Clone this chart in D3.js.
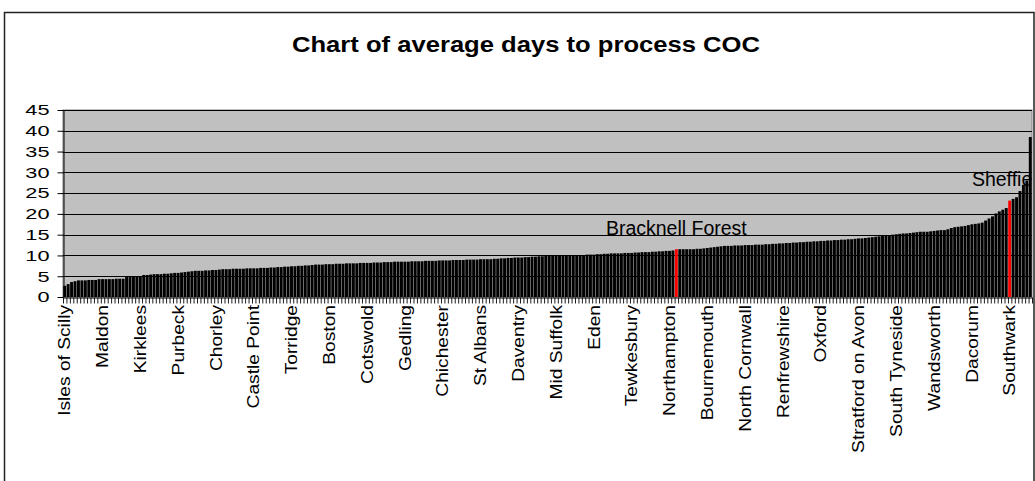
<!DOCTYPE html>
<html><head><meta charset="utf-8">
<script src="https://cdn.jsdelivr.net/npm/d3@7"></script>
<style>
body{margin:0;background:#fff}
svg{display:block}
text{font-family:"Liberation Sans",Arial,Helvetica,sans-serif;fill:#000}
</style>
</head><body>
<svg id="chart" width="1035" height="481"></svg>
<script>
// ---- data (sorted average days to process COC, one bar per authority) ----
const values = [
  2.7, 3.1, 3.6, 3.8, 4.0, 4.0, 4.0, 4.1, 4.1, 4.1,
  4.3, 4.3, 4.3, 4.3, 4.3, 4.4, 4.4, 4.4, 4.8, 4.8,
  4.9, 4.9, 5.0, 5.3, 5.3, 5.4, 5.5, 5.5, 5.5, 5.6,
  5.6, 5.7, 5.8, 5.8, 5.9, 6.0, 6.1, 6.2, 6.3, 6.3,
  6.3, 6.4, 6.4, 6.5, 6.5, 6.6, 6.7, 6.7, 6.7, 6.8,
  6.8, 6.8, 6.8, 6.9, 6.9, 6.9, 6.9, 7.0, 7.0, 7.0,
  7.1, 7.1, 7.2, 7.2, 7.3, 7.3, 7.4, 7.4, 7.5, 7.5,
  7.6, 7.6, 7.7, 7.8, 7.8, 7.8, 7.9, 7.9, 7.9, 8.0,
  8.0, 8.0, 8.1, 8.1, 8.1, 8.1, 8.2, 8.2, 8.2, 8.2,
  8.3, 8.3, 8.3, 8.4, 8.4, 8.4, 8.5, 8.5, 8.5, 8.5,
  8.5, 8.6, 8.6, 8.6, 8.6, 8.7, 8.7, 8.7, 8.7, 8.8,
  8.8, 8.8, 8.8, 8.9, 8.9, 8.9, 8.9, 9.0, 9.0, 9.0,
  9.0, 9.1, 9.1, 9.1, 9.1, 9.2, 9.2, 9.3, 9.3, 9.4,
  9.4, 9.5, 9.5, 9.5, 9.6, 9.6, 9.7, 9.7, 9.8, 9.8,
  9.9, 9.9, 9.9, 10.0, 10.0, 10.0, 10.0, 10.1, 10.1, 10.1,
  10.1, 10.1, 10.2, 10.2, 10.2, 10.3, 10.3, 10.4, 10.4, 10.5,
  10.5, 10.5, 10.5, 10.6, 10.6, 10.6, 10.7, 10.7, 10.8, 10.8,
  10.8, 10.9, 10.9, 11.0, 11.0, 11.1, 11.1, 11.2, 11.5, 11.5,
  11.5, 11.5, 11.5, 11.5, 11.6, 11.6, 11.7, 11.8, 11.9, 12.0,
  12.1, 12.2, 12.3, 12.3, 12.3, 12.4, 12.4, 12.4, 12.5, 12.5,
  12.5, 12.6, 12.6, 12.6, 12.7, 12.7, 12.8, 12.8, 12.9, 12.9,
  13.0, 13.0, 13.1, 13.1, 13.2, 13.2, 13.3, 13.3, 13.4, 13.4,
  13.5, 13.5, 13.6, 13.6, 13.7, 13.7, 13.8, 13.8, 13.9, 13.9,
  14.0, 14.1, 14.1, 14.2, 14.3, 14.4, 14.5, 14.6, 14.7, 14.8,
  14.9, 15.0, 15.1, 15.2, 15.3, 15.3, 15.4, 15.5, 15.6, 15.7,
  15.7, 15.7, 15.8, 15.9, 16.0, 16.1, 16.1, 16.3, 16.6, 16.8,
  16.9, 17.0, 17.1, 17.3, 17.5, 17.6, 17.7, 17.9, 18.4, 18.9,
  19.4, 20.1, 20.6, 21.0, 21.4, 23.2, 23.6, 24.0, 25.5, 27.0,
  28.0, 38.5
];
const tickLabels = ["Isles of Scilly","Maldon","Kirklees","Purbeck","Chorley","Castle Point",
  "Torridge","Boston","Cotswold","Gedling","Chichester","St Albans","Daventry","Mid Suffolk",
  "Eden","Tewkesbury","Northampton","Bournemouth","North Cornwall","Renfrewshire","Oxford",
  "Stratford on Avon","South Tyneside","Wandsworth","Dacorum","Southwark"];
const labelEvery = 11;
const highlightNames = ["Bracknell Forest","Sheffield"];
const highlightIndex = [178, 275];
const yTicks = [0,5,10,15,20,25,30,35,40,45];
const title = "Chart of average days to process COC";

// ---- layout ----
const svg = d3.select("#chart");
const L = 63, R = 1032, T = 110, B = 297;
const N = values.length;

svg.append("rect").attr("x",4.5).attr("y",12.5).attr("width",1029.5).attr("height",480)
  .attr("fill","#fff").attr("stroke","#222").attr("stroke-width",1.5);

const x = d3.scaleBand().domain(d3.range(N)).range([L,R]).paddingInner(0.15).paddingOuter(0.075);
const xb = d3.scaleLinear().domain([0,N]).range([L,R]);
const y = d3.scaleLinear().domain([0,45]).range([B,T]);

// plot area
svg.append("rect").attr("x",L).attr("y",T).attr("width",R-L).attr("height",B-T)
  .attr("fill","#c0c0c0").attr("stroke","#808080").attr("stroke-width",1);

// gridlines
svg.append("g").selectAll("line").data(yTicks.filter(d=>d>0)).join("line")
  .attr("x1",L).attr("x2",R).attr("y1",d=>Math.round(y(d))+0.5).attr("y2",d=>Math.round(y(d))+0.5)
  .attr("stroke","#000").attr("stroke-width",1);

// bars
svg.append("g").selectAll("rect").data(values).join("rect")
  .attr("x",(d,i)=>x(i)).attr("width",x.bandwidth())
  .attr("y",d=>y(d)).attr("height",d=>y(0)-y(d))
  .attr("fill",(d,i)=>highlightIndex.includes(i)?"#ff0000":"#000");

// y axis
const pad = 8, tick = 6;
const gy = svg.append("g").attr("transform",`translate(${L+0.5},0)`)
  .call(d3.axisLeft(y).tickValues(yTicks).tickSize(tick).tickSizeOuter(0).tickPadding(pad));
gy.select(".domain").attr("stroke","#000");
gy.selectAll(".tick line").attr("stroke","#000");
gy.selectAll(".tick text").attr("font-size",15).attr("font-family","Liberation Sans, Arial")
  .attr("fill","#000").attr("text-anchor","end")
  .attr("transform", `translate(${-pad-tick},0) scale(1.45,1) translate(${pad+tick},0)`);

// x axis category ticks
const gx = svg.append("g").attr("transform",`translate(0,${B+0.5})`)
  .call(d3.axisBottom(xb).tickValues(d3.range(N+1)).tickFormat("").tickSize(6).tickSizeOuter(0));
gx.select(".domain").attr("stroke","#000");
gx.selectAll(".tick line").attr("stroke","#000").attr("stroke-width",0.9);

// x labels
const labelIdx = tickLabels.map((d,k)=>k*labelEvery);
const gl = svg.append("g").attr("transform",`translate(0,${B})`)
  .call(d3.axisBottom(x).tickValues(labelIdx).tickFormat(i=>tickLabels[i/labelEvery]).tickSize(0).tickSizeOuter(0));
gl.select(".domain").remove();
gl.selectAll(".tick text")
  .attr("font-size",16).attr("font-family","Liberation Sans, Arial").attr("fill","#000")
  .attr("text-anchor","end").attr("x",0).attr("y",0).attr("dy","0.36em")
  .attr("transform","translate(0,8) rotate(-90) scale(1.2,1)");

// highlight annotations (the right one is cut by the plot edge, as in the original)
svg.append("clipPath").attr("id","clipR").append("rect").attr("x",0).attr("y",0).attr("width",1032).attr("height",481);
svg.append("g").attr("clip-path","url(#clipR)").selectAll("text").data(highlightIndex).join("text")
  .attr("x",i=>x(i)+x.bandwidth()/2).attr("y",i=>y(values[i])-14.5)
  .attr("text-anchor","middle").attr("font-size",19.5)
  .text((i,k)=>highlightNames[k]);

// title
svg.append("text").attr("x",526).attr("y",52).attr("text-anchor","middle")
  .attr("font-size",22).attr("font-weight","bold")
  .attr("textLength",468).attr("lengthAdjust","spacingAndGlyphs")
  .text(title);
</script>
</body></html>
